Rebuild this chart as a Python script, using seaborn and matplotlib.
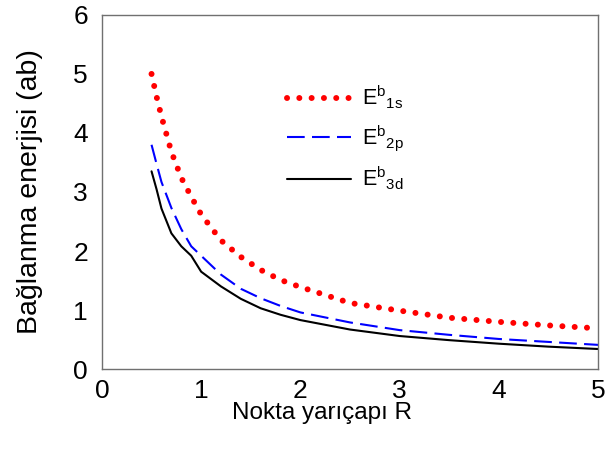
import matplotlib
matplotlib.use('Agg')
import matplotlib.pyplot as plt
import seaborn as sns

sns.set_theme(style="white")
plt.rcParams['font.family'] = ['Liberation Sans', 'DejaVu Sans']
plt.rcParams['mathtext.fontset'] = 'custom'
plt.rcParams['mathtext.rm'] = 'Liberation Sans'
plt.rcParams['mathtext.it'] = 'Liberation Sans'
plt.rcParams['text.color'] = 'black'
plt.rcParams['axes.labelcolor'] = 'black'
plt.rcParams['xtick.color'] = 'black'
plt.rcParams['ytick.color'] = 'black'

# Veriler
R = [0.5, 0.55, 0.6, 0.7, 0.8, 0.9, 1.0, 1.2, 1.4, 1.6, 1.8, 2.0, 2.5, 3.0, 3.5, 4.0, 4.5, 5.0]
E_1s = [5.00, 4.62, 4.28, 3.68, 3.24, 2.92, 2.62, 2.18, 1.90, 1.68, 1.51, 1.39, 1.12, 0.99, 0.87, 0.80, 0.74, 0.69]
E_2p = [3.80, 3.48, 3.17, 2.73, 2.37, 2.08, 1.92, 1.60, 1.36, 1.20, 1.07, 0.96, 0.79, 0.66, 0.58, 0.51, 0.46, 0.41]
E_3d = [3.35, 3.05, 2.72, 2.30, 2.08, 1.92, 1.65, 1.40, 1.19, 1.03, 0.92, 0.83, 0.67, 0.56, 0.49, 0.43, 0.38, 0.34]

etiketler = [r'E$^{\mathregular{b}}$$_{\mathregular{1s}}$',
             r'E$^{\mathregular{b}}$$_{\mathregular{2p}}$',
             r'E$^{\mathregular{b}}$$_{\mathregular{3d}}$']

fig = plt.figure(figsize=(6.14, 4.66), dpi=100)
ax = fig.add_axes([0.166, 0.208, 0.808, 0.760])

sns.lineplot(x=R, y=E_1s, ax=ax, color='#ff0000', linewidth=4.3, label=etiketler[0])
ax.lines[-1].set_dashes((0.01, 2.05))
ax.lines[-1].set_dash_capstyle('round')
sns.lineplot(x=R, y=E_2p, ax=ax, color='#0000ff', linewidth=1.5, label=etiketler[1])
ax.lines[-1].set_dashes((8.5, 3.5))
sns.lineplot(x=R, y=E_3d, ax=ax, color='black', linewidth=1.5, label=etiketler[2])

ax.set_xlim(0, 5)
ax.set_ylim(0, 6)
ax.set_xticks(range(0, 6))
ax.set_yticks(range(0, 7))
ax.tick_params(axis='both', direction='out', length=5, width=1, color='#707070',
               labelsize=19, labelcolor='black')
ax.tick_params(axis='x', pad=2)
ax.tick_params(axis='y', pad=5)
for s in ax.spines.values():
    s.set_visible(True)
    s.set_color('#707070')
    s.set_linewidth(1)

ax.set_xlabel('Nokta yarıçapı R', fontsize=17.5, labelpad=0)
ax.xaxis.set_label_coords(0.444, -0.094)
ax.xaxis.label.set_verticalalignment('top')
ax.yaxis.set_label_coords(-0.118, 0.5)
ax.set_ylabel('Bağlanma enerjisi (ab)', fontsize=20.5)

leg = ax.legend(loc='upper left', bbox_to_anchor=(0.335, 0.859), frameon=False,
                fontsize=15.5, handlelength=2.95, handletextpad=0.5, labelspacing=0.55)

plt.savefig('out.png', dpi=100)
plt.close()
